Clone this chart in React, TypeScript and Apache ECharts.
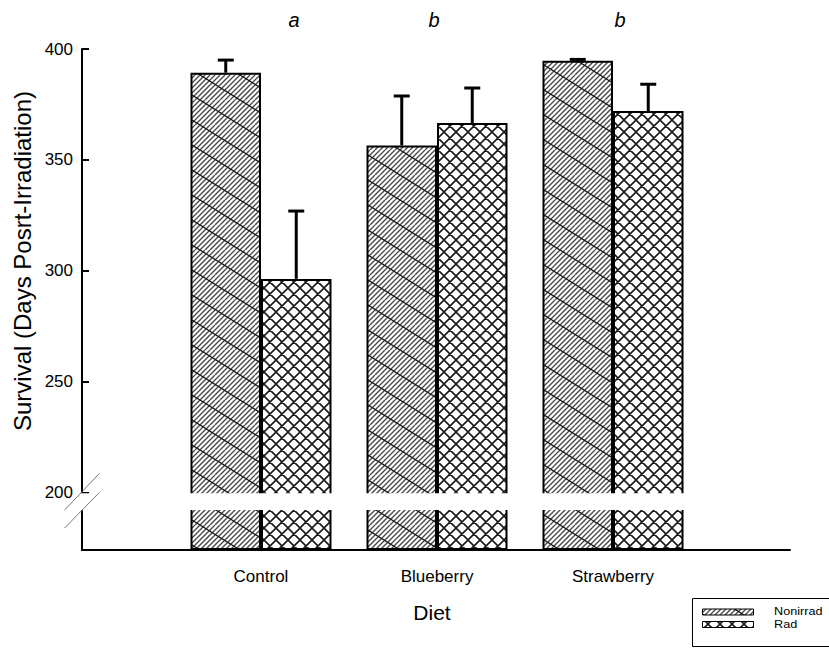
import { useEffect, useRef } from 'react';
import * as echarts from 'echarts';

const categories = ['Control', 'Blueberry', 'Strawberry'];
const seriesNames = ['Nonirrad', 'Rad'];
const nonirradValues = [389.3, 356.5, 394.7];
const nonirradErrorTops = [395, 378.8, 395.3];
const radValues = [296.3, 366.6, 372];
const radErrorTops = [326.9, 382.4, 384.1];
const yTickValues = [200, 250, 300, 350, 400];
const significanceLetters = ['a', 'b', 'b'];
const yMin = 174;
const yMax = 400;
const breakLow = 192;
const breakHigh = 200;

const FONT = "'Liberation Sans', Arial, Helvetica, sans-serif";
const BAR_W = 70.5;
const letterX = [294, 434, 620];

function makeNonirradPattern() {
  const W = 40, H = 25;
  const c = document.createElement('canvas');
  c.width = W; c.height = H;
  const ctx = c.getContext('2d')!;
  ctx.fillStyle = '#fff';
  ctx.fillRect(0, 0, W, H);
  ctx.strokeStyle = '#4a4a4a';
  ctx.lineWidth = 1.4;
  ctx.beginPath();
  for (let k = -H; k <= W + H; k += 5) {
    ctx.moveTo(k, H);
    ctx.lineTo(k + H, 0);
  }
  ctx.stroke();
  ctx.strokeStyle = '#1a1a1a';
  ctx.lineWidth = 1.3;
  ctx.beginPath();
  for (let m = -1; m <= 1; m++) {
    ctx.moveTo(0, m * H);
    ctx.lineTo(W, m * H + H);
  }
  ctx.stroke();
  return { image: c, repeat: 'repeat', imageWidth: W, imageHeight: H };
}

function makeRadPattern() {
  const S = 12;
  const c = document.createElement('canvas');
  c.width = S; c.height = S;
  const ctx = c.getContext('2d')!;
  ctx.fillStyle = '#fff';
  ctx.fillRect(0, 0, S, S);
  ctx.strokeStyle = '#1a1a1a';
  ctx.lineWidth = 1.6;
  ctx.beginPath();
  for (let k = -1; k <= 1; k++) {
    ctx.moveTo(k * S, S);
    ctx.lineTo(k * S + S, 0);
    ctx.moveTo(k * S, 0);
    ctx.lineTo(k * S + S, S);
  }
  ctx.stroke();
  return { image: c, repeat: 'repeat', imageWidth: S, imageHeight: S };
}

function errorSeries(name: string, values: number[], tops: number[], side: number) {
  return {
    type: 'custom',
    name: name + ' err',
    xAxisIndex: 0,
    yAxisIndex: 0,
    z: 5,
    encode: { x: 0, y: [1, 2] },
    data: values.map((v, i) => [i, v, tops[i]]),
    renderItem: (params: any, api: any) => {
      const base = api.coord([api.value(0), api.value(1)]);
      const top = api.coord([api.value(0), api.value(2)]);
      const x = base[0] + (side * BAR_W) / 2;
      return {
        type: 'group',
        children: [
          { type: 'line', shape: { x1: x, y1: base[1], x2: x, y2: top[1] }, style: { stroke: '#000', lineWidth: 3 } },
          { type: 'line', shape: { x1: x - 8, y1: top[1], x2: x + 8, y2: top[1] }, style: { stroke: '#000', lineWidth: 3 } },
        ],
      };
    },
  };
}

export default function App() {
  const ref = useRef<HTMLDivElement>(null);
  useEffect(() => {
    document.body.style.margin = '0';
    const chart = echarts.init(ref.current!, null, { renderer: 'svg' });
    const nonPat = makeNonirradPattern();
    const radPat = makeRadPattern();
    const patterns = [nonPat, radPat];
    chart.setOption({
      animation: false,
      backgroundColor: '#fff',
      textStyle: { fontFamily: FONT },
      grid: [
        { left: 173, right: 128, top: 49, bottom: 98 },
        { left: 82, right: 39, top: 49, bottom: 98 },
      ],
      xAxis: [
        {
          type: 'category',
          gridIndex: 0,
          data: categories,
          axisLine: { show: false },
          axisTick: { show: false },
          axisLabel: { fontSize: 17, color: '#000', margin: 18, fontFamily: FONT },
        },
        {
          type: 'value',
          gridIndex: 1,
          min: 0,
          max: 1,
          axisLine: { show: true, lineStyle: { color: '#000', width: 2 } },
          axisTick: { show: false },
          axisLabel: { show: false },
          splitLine: { show: false },
        },
      ],
      yAxis: [
        { type: 'value', gridIndex: 0, min: yMin, max: yMax, startValue: yMin, show: false, splitLine: { show: false } },
        {
          type: 'value',
          gridIndex: 1,
          min: yMin,
          max: yMax,
          axisLine: { show: true, lineStyle: { color: '#000', width: 2 } },
          axisTick: { show: true, inside: true, length: 7, customValues: yTickValues, lineStyle: { color: '#000', width: 2 } },
          axisLabel: { customValues: yTickValues, fontSize: 17, color: '#000', margin: 9, fontFamily: FONT },
          splitLine: { show: false },
        },
      ],
      series: [
        {
          type: 'bar',
          name: seriesNames[0],
          xAxisIndex: 0,
          yAxisIndex: 0,
          barWidth: BAR_W,
          barGap: '0%',
          data: nonirradValues,
          itemStyle: { color: nonPat, borderColor: '#000', borderWidth: 2 },
        },
        {
          type: 'bar',
          name: seriesNames[1],
          xAxisIndex: 0,
          yAxisIndex: 0,
          barWidth: BAR_W,
          barGap: '0%',
          data: radValues,
          itemStyle: { color: radPat, borderColor: '#000', borderWidth: 2 },
        },
        errorSeries(seriesNames[0], nonirradValues, nonirradErrorTops, -1),
        errorSeries(seriesNames[1], radValues, radErrorTops, 1),
      ],
    });

    const axisX = chart.convertToPixel({ xAxisIndex: 1 }, 0) as number;
    const rightX = chart.convertToPixel({ xAxisIndex: 1 }, 1) as number;
    const yHigh = chart.convertToPixel({ yAxisIndex: 1 }, breakHigh) as number;
    const yLow = chart.convertToPixel({ yAxisIndex: 1 }, breakLow) as number;

    const legendRowY = [611.5, 624];
    const legendItems: any[] = [];
    seriesNames.forEach((n, i) => {
      legendItems.push({
        type: 'rect',
        z: 102,
        shape: { x: 702.5, y: legendRowY[i] - 2.5, width: 51, height: 6 },
        style: { fill: patterns[i], stroke: '#000', lineWidth: 1 },
      });
      legendItems.push({
        type: 'text',
        z: 102,
        x: 774,
        y: legendRowY[i],
        scaleX: 1.15,
        style: { text: n, fontSize: 11, lineHeight: 11, fontFamily: FONT, fill: '#000', align: 'left', verticalAlign: 'middle' },
      });
    });

    chart.setOption({
      graphic: [
        {
          type: 'rect',
          z: 100,
          shape: { x: axisX - 6, y: yHigh + 1, width: rightX - axisX + 6, height: yLow - yHigh - 1 },
          style: { fill: '#fff' },
        },
        {
          type: 'line',
          z: 101,
          shape: { x1: axisX - 17.5, y1: yLow, x2: axisX + 17.5, y2: yHigh - 19 },
          style: { stroke: '#777', lineWidth: 1 },
        },
        {
          type: 'line',
          z: 101,
          shape: { x1: axisX - 17.5, y1: yLow + 18, x2: axisX + 17.5, y2: yHigh },
          style: { stroke: '#777', lineWidth: 1 },
        },
        ...significanceLetters.map((t, i) => ({
          type: 'text',
          z: 101,
          x: letterX[i],
          y: 20,
          style: { text: t, fontSize: 20, fontStyle: 'italic', fontFamily: FONT, fill: '#000', align: 'center', verticalAlign: 'middle' },
        })),
        {
          type: 'text',
          z: 101,
          x: 22,
          y: 261,
          rotation: Math.PI / 2,
          style: { text: 'Survival (Days Posrt-Irradiation)', fontSize: 24, fontFamily: FONT, fill: '#000', align: 'center', verticalAlign: 'middle' },
        },
        {
          type: 'text',
          z: 101,
          x: 432,
          y: 612,
          style: { text: 'Diet', fontSize: 21, fontFamily: FONT, fill: '#000', align: 'center', verticalAlign: 'middle' },
        },
        {
          type: 'rect',
          z: 101,
          shape: { x: 692.5, y: 598.5, width: 200, height: 48 },
          style: { fill: '#fff', stroke: '#000', lineWidth: 1 },
        },
        ...legendItems,
      ],
    });

    return () => chart.dispose();
  }, []);
  return <div ref={ref} style={{ width: 829, height: 648 }} />;
}
